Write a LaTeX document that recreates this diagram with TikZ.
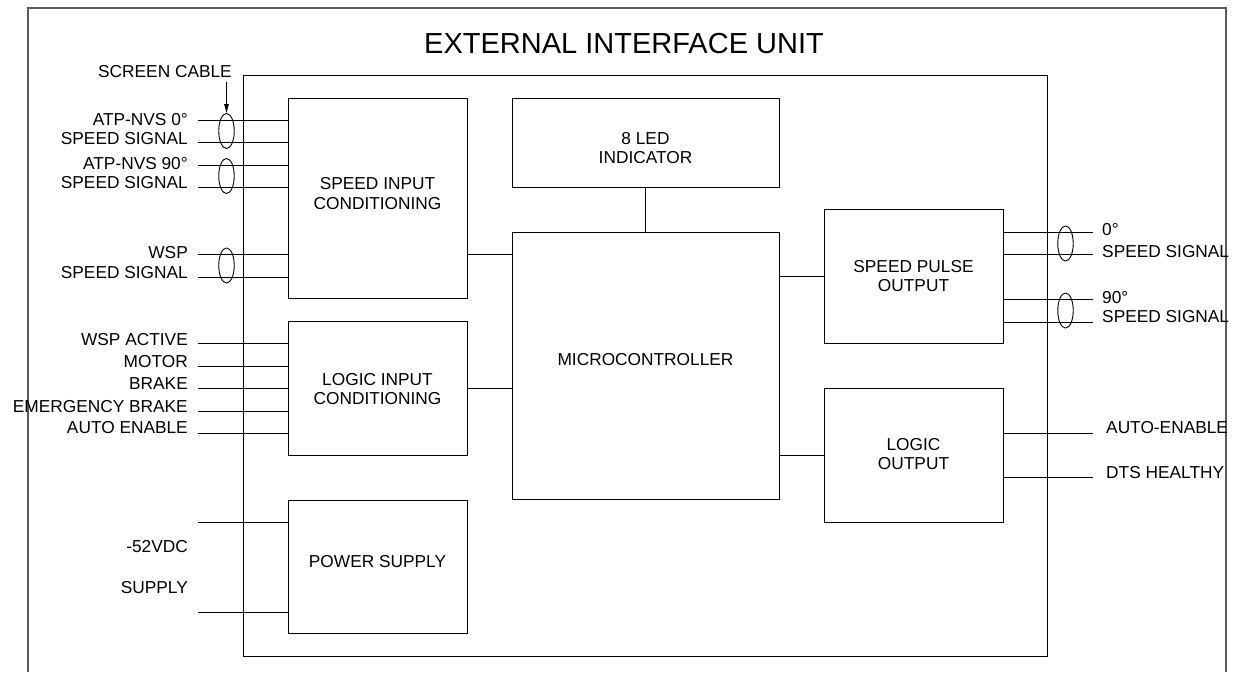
\documentclass[tikz,border=0pt]{standalone}
\usepackage{fontspec}
\setmainfont{Liberation Sans}
\usetikzlibrary{arrows.meta,shapes.geometric}
\begin{document}
\begin{tikzpicture}[x=1pt,y=-1pt,
  every node/.style={font=\fontsize{17.3pt}{19.5pt}\selectfont, inner sep=0pt},
  blk/.style={draw, line width=1pt, align=center},
  intext/.style={align=center, inner sep=0pt},
  wire/.style={line width=1pt},
  cable/.style={draw, ellipse, line width=0.9pt, minimum width=15.5pt, minimum height=35pt, inner sep=0pt},
  lbl/.style={anchor=base east},
  rlbl/.style={anchor=base west},
  arr/.style={line width=1pt, -{Triangle[length=9pt,width=4.5pt]}}]
\useasboundingbox (0,0) rectangle (1233,672);
\fill[white] (0,0) rectangle (1233,672);
% outer frame (open at bottom)
\draw[line width=1.4pt, black!65] (28,672) -- (28,8) -- (1226,8) -- (1226,672);
\node[font=\fontsize{29pt}{34pt}\selectfont, anchor=base] (title) at (624,53) {EXTERNAL INTERFACE UNIT};
% inner unit box
\draw[line width=1pt] (243,75) rectangle (1047,656);
% blocks
\node[blk, minimum width=179pt, minimum height=200pt,
  label={[intext, yshift=4.5pt]center:{SPEED INPUT\\CONDITIONING}}] (sic) at (377.5,198) {};
\node[blk, minimum width=179pt, minimum height=134pt,
  label={[intext, yshift=-1pt]center:{LOGIC INPUT\\CONDITIONING}}] (lic) at (377.5,388) {};
\node[blk, minimum width=179pt, minimum height=133pt,
  label={[intext, yshift=5pt]center:{POWER SUPPLY}}] (ps) at (377.5,566.5) {};
\node[blk, minimum width=267pt, minimum height=89pt,
  label={[intext, yshift=-5.5pt]center:{8 LED\\INDICATOR}}] (led) at (645.5,142.5) {};
\node[blk, minimum width=267pt, minimum height=267pt,
  label={[intext, yshift=5.5pt]center:{MICROCONTROLLER}}] (mc) at (645.5,365.5) {};
\node[blk, minimum width=179pt, minimum height=134pt,
  label={[intext]center:{SPEED PULSE\\OUTPUT}}] (spo) at (913.5,276) {};
\node[blk, minimum width=179pt, minimum height=134pt,
  label={[intext, yshift=1pt]center:{LOGIC\\OUTPUT}}] (lo) at (913.5,455) {};
% internal connectors
\path (sic.east) ++(0,56) coordinate (a1);
\draw[wire] (a1) -- (a1 -| mc.west);
\draw[wire] (lic.east) -- (lic.east -| mc.west);
\draw[wire] (led.south) -- (led.south |- mc.north);
\draw[wire] (spo.west -| mc.east) -- (spo.west);
\draw[wire] (lo.west -| mc.east) -- (lo.west);
% left speed inputs
\foreach \n/\y in {i1/120, i2/142, i3/165, i4/187, i5/254, i6/277}{
  \coordinate (\n) at (198,\y);
  \draw[wire] (\n) -- (\n -| sic.west);
}
\node[cable] (e1) at (226.5,131) {};
\node[cable] (e2) at (226.5,176) {};
\node[cable] (e3) at (226.5,265.5) {};
\node[lbl] (t1) at (188,125) {ATP-NVS 0°};
\node[lbl] (t2) at (188,144) {SPEED SIGNAL};
\node[lbl] (t3) at (188,169) {ATP-NVS 90°};
\node[lbl] (t4) at (188,188) {SPEED SIGNAL};
\node[lbl] (t5) at (188,258) {WSP};
\node[lbl] (t6) at (188,278) {SPEED SIGNAL};
\node[lbl] (sc) at (232,77) {SCREEN CABLE};
\coordinate (sct) at (226.5,82);
\draw[arr] (sct) -- (e1.north);
% left logic inputs
\foreach \n/\y in {j1/343, j2/366, j3/388, j4/411, j5/433}{
  \coordinate (\n) at (198,\y);
  \draw[wire] (\n) -- (\n -| lic.west);
}
\node[lbl] (u1) at (188,345) {WSP ACTIVE};
\node[lbl] (u2) at (188,367) {MOTOR};
\node[lbl] (u3) at (188,389) {BRAKE};
\node[lbl] (u4) at (188,412) {EMERGENCY BRAKE};
\node[lbl] (u5) at (188,433) {AUTO ENABLE};
% power inputs
\foreach \n/\y in {p1/522, p2/612}{
  \coordinate (\n) at (198,\y);
  \draw[wire] (\n) -- (\n -| ps.west);
}
\node[lbl] (v1) at (188,552) {-52VDC};
\node[lbl] (v2) at (188,593) {SUPPLY};
% right speed outputs
\foreach \n/\y in {o1/232, o2/254, o3/299, o4/322}{
  \coordinate (\n) at (1093,\y);
  \draw[wire] (\n -| spo.east) -- (\n);
}
\node[cable] (e4) at (1065.5,243.5) {};
\node[cable] (e5) at (1065.5,310.5) {};
\node[rlbl] (w1) at (1102,235) {0°};
\node[rlbl] (w2) at (1102,257) {SPEED SIGNAL};
\node[rlbl] (w3) at (1102,303) {90°};
\node[rlbl] (w4) at (1102,322) {SPEED SIGNAL};
% logic outputs
\foreach \n/\y in {q1/433, q2/477}{
  \coordinate (\n) at (1093,\y);
  \draw[wire] (\n -| lo.east) -- (\n);
}
\node[rlbl] (x1) at (1106,433) {AUTO-ENABLE};
\node[rlbl] (x2) at (1106,478) {DTS HEALTHY};
\end{tikzpicture}
\end{document}
